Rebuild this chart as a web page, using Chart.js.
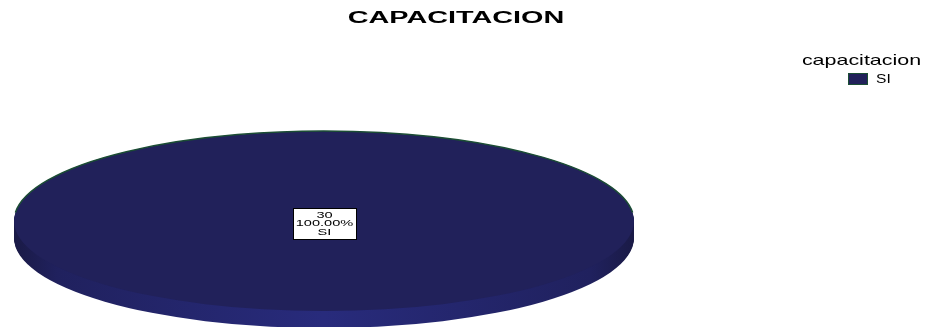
<!DOCTYPE html>
<html>
<head>
<meta charset="utf-8">
<title>CAPACITACION</title>
<script src="https://cdn.jsdelivr.net/npm/chart.js@4/dist/chart.umd.min.js"></script>
<style>
  html, body { margin: 0; padding: 0; background: #ffffff; }
  #wrap { width: 942px; height: 327px; position: relative; }
</style>
</head>
<body>
<div id="wrap"><canvas id="chart"></canvas></div>
<script>
// Survey answers for "capacitacion"
const chartTitle = 'CAPACITACION';
const legendTitle = 'capacitacion';
const categories = ['SI'];
const counts = [30];

// Colours
const faceColors = ['#21215a'];
const edgeColor = '#1b4d34';

// Oval projection of the pie (flattened disc with a visible rim)
const PIE = { cx: 324, cy: 221, rx: 310, ry: 90, depth: 17 };

function applyOval(ctx, arc) {
  const R = arc.outerRadius;
  ctx.translate(PIE.cx, PIE.cy);
  ctx.scale(PIE.rx / R, PIE.ry / R);
  ctx.translate(-arc.x, -arc.y);
}

function slicePath(ctx, arc) {
  const full = Math.abs(arc.endAngle - arc.startAngle) >= Math.PI * 2 - 1e-6;
  ctx.beginPath();
  if (!full) ctx.moveTo(arc.x, arc.y);
  ctx.arc(arc.x, arc.y, arc.outerRadius, arc.startAngle, arc.endAngle);
  ctx.closePath();
}

function stretchedText(ctx, text, x, y, font, sx, align) {
  ctx.save();
  ctx.font = font;
  ctx.textAlign = align || 'center';
  ctx.textBaseline = 'alphabetic';
  ctx.translate(x, y);
  ctx.scale(sx, 1);
  ctx.fillText(text, 0, 0);
  ctx.restore();
}

const ovalPie = {
  id: 'ovalPie',
  beforeDatasetsDraw(chart) {
    const ctx = chart.ctx;
    const meta = chart.getDatasetMeta(0);
    // rim: stacked copies of each slice shifted downward
    const grad = ctx.createLinearGradient(PIE.cx - PIE.rx, 0, PIE.cx + PIE.rx, 0);
    grad.addColorStop(0, '#1a1a46');
    grad.addColorStop(0.07, '#20215e');
    grad.addColorStop(0.5, '#282b7c');
    grad.addColorStop(0.93, '#20215e');
    grad.addColorStop(1, '#1a1a46');
    for (let d = PIE.depth; d >= 1; d--) {
      meta.data.forEach(arc => {
        ctx.save();
        ctx.translate(0, d);
        applyOval(ctx, arc);
        slicePath(ctx, arc);
        ctx.restore();
        ctx.fillStyle = grad;
        ctx.fill();
      });
    }
    // top faces are drawn by the library inside the projected space
    ctx.save();
    applyOval(ctx, meta.data[0]);
  },
  afterDatasetsDraw(chart) {
    const ctx = chart.ctx;
    ctx.restore();
    const meta = chart.getDatasetMeta(0);
    const arc0 = meta.data[0];

    // thin highlight along the far edge of the disc
    ctx.save();
    applyOval(ctx, arc0);
    ctx.beginPath();
    ctx.arc(arc0.x, arc0.y, arc0.outerRadius, Math.PI * 1.03, Math.PI * 1.97);
    ctx.restore();
    ctx.strokeStyle = edgeColor;
    ctx.lineWidth = 1.5;
    ctx.stroke();

    // value / percentage / category labels
    const total = counts.reduce((a, b) => a + b, 0);
    meta.data.forEach((arc, i) => {
      const mid = (arc.startAngle + arc.endAngle) / 2;
      const full = Math.abs(arc.endAngle - arc.startAngle) >= Math.PI * 2 - 1e-6;
      const rr = full ? 0 : arc.outerRadius * 0.5;
      const lx = PIE.cx + Math.cos(mid) * rr * PIE.rx / arc.outerRadius;
      const ly = PIE.cy + 2 + Math.sin(mid) * rr * PIE.ry / arc.outerRadius;
      const lines = [String(counts[i]), (counts[i] / total * 100).toFixed(2) + '%', categories[i]];
      const bw = 63, bh = 31;
      const bx = Math.round(lx - bw / 2) + 0.5, by = Math.round(ly - bh / 2) + 0.5;
      ctx.save();
      ctx.fillStyle = '#ffffff';
      ctx.fillRect(bx, by, bw, bh);
      ctx.strokeStyle = '#000000';
      ctx.lineWidth = 1;
      ctx.strokeRect(bx, by, bw, bh);
      ctx.fillStyle = '#000000';
      lines.forEach((t, k) => {
        stretchedText(ctx, t, lx + 0.5, ly - 5.5 + k * 8.5, '9px "Liberation Sans", Arial, sans-serif', 1.62, 'center');
      });
      ctx.restore();
    });

    // title
    ctx.fillStyle = '#000000';
    stretchedText(ctx, chartTitle, 456, 23, 'bold 16px "Liberation Sans", Arial, sans-serif', 1.8, 'center');

    // legend
    stretchedText(ctx, legendTitle, 861.5, 65, '15px "Liberation Sans", Arial, sans-serif', 1.43, 'center');
    categories.forEach((c, i) => {
      const y = 73 + i * 16;
      ctx.fillStyle = faceColors[i % faceColors.length];
      ctx.fillRect(848.5, y + 0.5, 19, 11);
      ctx.strokeStyle = edgeColor;
      ctx.lineWidth = 1;
      ctx.strokeRect(848.5, y + 0.5, 19, 11);
      ctx.fillStyle = '#000000';
      stretchedText(ctx, c, 876, y + 10, '12px "Liberation Sans", Arial, sans-serif', 1.3, 'left');
    });
  }
};

new Chart(document.getElementById('chart'), {
  type: 'pie',
  data: {
    labels: categories,
    datasets: [{
      data: counts,
      backgroundColor: faceColors,
      borderWidth: 0,
      clip: false
    }]
  },
  options: {
    responsive: true,
    maintainAspectRatio: false,
    animation: false,
    events: [],
    layout: { padding: 0 },
    plugins: {
      legend: { display: false },
      title: { display: false },
      tooltip: { enabled: false }
    }
  },
  plugins: [ovalPie]
});
</script>
</body>
</html>
